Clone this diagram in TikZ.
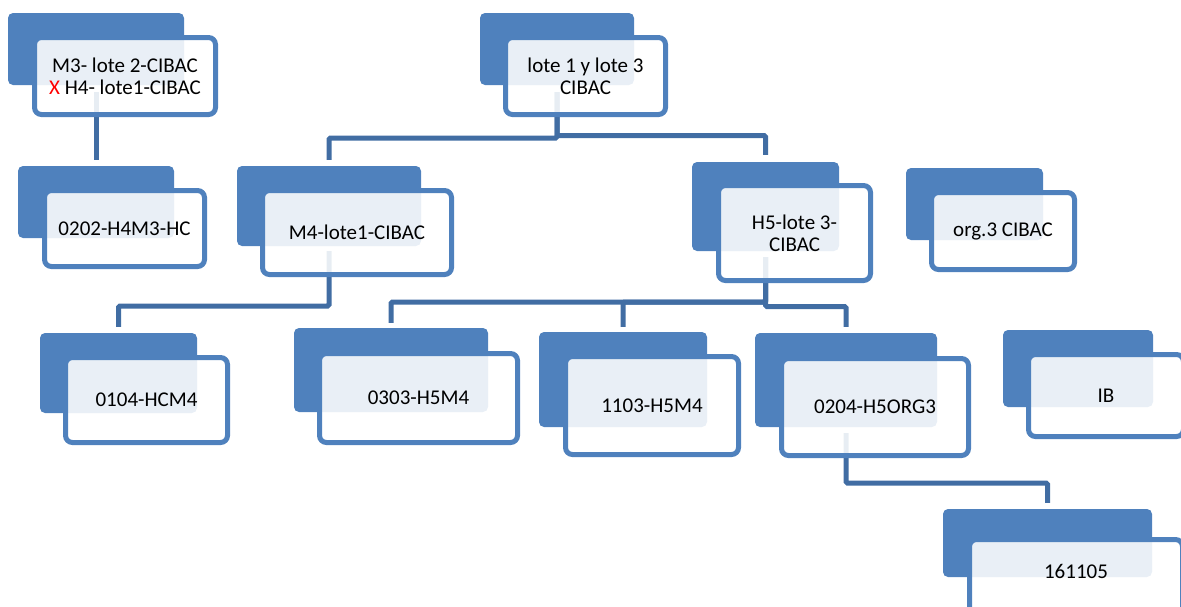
\documentclass[tikz,border=0pt]{standalone}
\usepackage{fontspec}
\setmainfont{Carlito}
\usetikzlibrary{backgrounds,calc}
\definecolor{boxblue}{HTML}{4F81BD}
\definecolor{linkblue}{HTML}{416DA3}
\tikzset{
  backbox/.style={draw=none, fill=boxblue, rounded corners=5pt, inner sep=0pt},
  frontbox/.style={draw=boxblue, line width=5pt, fill=white, fill opacity=0.88, text opacity=1,
    rounded corners=7pt, inner sep=0pt, align=center, font=\fontsize{21}{22}\selectfont},
  conn/.style={draw=linkblue, line width=5pt, rounded corners=1.5pt},
}
\begin{document}
\begin{tikzpicture}[x=1pt,y=-1pt]
\useasboundingbox (0,0) rectangle (1181,606);
% bar levels
\coordinate (barRa) at (0,138);
\coordinate (barRb) at (0,135.5);
\coordinate (barM) at (0,306);
\coordinate (barHa) at (0,302);
\coordinate (barHb) at (0,306.5);
\coordinate (barO) at (0,483);

% A
\node[backbox, minimum width=176pt, minimum height=72pt] (A-b) at (96,49) {};
\node[frontbox, minimum width=181pt, minimum height=77pt] (A) at (125,76) {M3- lote 2-CIBAC\\\textcolor{red}{X} H4- lote1-CIBAC};
% 0202
\node[backbox, minimum width=156pt, minimum height=72pt] (n0202-b) at (96,202) {};
\node[frontbox, minimum width=160pt, minimum height=76pt] (n0202) at (124.5,228.5) {0202-H4M3-HC};
% root
\node[backbox, minimum width=154pt, minimum height=72pt] (root-b) at (557,49) {};
\node[frontbox, minimum width=160pt, minimum height=77pt] (root) at (585.5,76) {lote 1 y lote 3\\CIBAC};
% M4
\node[backbox, minimum width=184pt, minimum height=80pt] (m4-b) at (329,206) {};
\node[frontbox, minimum width=189pt, minimum height=84pt] (m4) at (357,232.5) {M4-lote1-CIBAC};
% H5
\node[backbox, minimum width=147pt, minimum height=89pt] (h5-b) at (765.5,206.5) {};
\node[frontbox, minimum width=152pt, minimum height=95pt] (h5) at (794.5,233) {H5-lote 3-\\CIBAC};
% org3
\node[backbox, minimum width=137pt, minimum height=72pt] (org-b) at (974.5,204) {};
\node[frontbox, minimum width=143pt, minimum height=77pt] (org) at (1003,231) {org.3 CIBAC};
% 0104
\node[backbox, minimum width=157pt, minimum height=80pt] (n0104-b) at (118.5,373) {};
\node[frontbox, minimum width=162pt, minimum height=85pt] (n0104) at (146.5,400) {0104-HCM4};
% 0303
\node[backbox, minimum width=194pt, minimum height=84pt] (n0303-b) at (391,370) {};
\node[frontbox, minimum width=198pt, minimum height=89pt] (n0303) at (418.5,398) {0303-H5M4};
% 1103
\node[backbox, minimum width=168pt, minimum height=95pt] (n1103-b) at (623,379.5) {};
\node[frontbox, minimum width=173pt, minimum height=98pt] (n1103) at (652,405.5) {1103-H5M4};
% 0204
\node[backbox, minimum width=182pt, minimum height=94pt] (n0204-b) at (846,380) {};
\node[frontbox, minimum width=187pt, minimum height=97pt] (n0204) at (875,407) {0204-H5ORG3};
% IB
\node[backbox, minimum width=150pt, minimum height=77pt] (ib-b) at (1078,368.5) {};
\node[frontbox, minimum width=155pt, minimum height=82pt] (ib) at (1106,395.5) {IB};
% 161105
\node[backbox, minimum width=209pt, minimum height=68pt] (n161-b) at (1047.5,543) {};
\node[frontbox, minimum width=213pt, minimum height=75pt, text depth=12pt] (n161) at (1076,577) {161105};

\begin{pgfonlayer}{background}
\draw[conn] ([yshift=-7pt]A-b.south) -- ([yshift=6pt]n0202-b.north);
\draw[conn] ([yshift=-7pt]root-b.south) -- (root-b.south |- barRa) -| ([yshift=6pt]m4-b.north);
\draw[conn] ([yshift=-7pt]root-b.south) -- (root-b.south |- barRb) -| ([yshift=7pt]h5-b.north);
\draw[conn] ([yshift=-5pt]m4-b.south) -- (m4-b.south |- barM) -| ([yshift=6pt]n0104-b.north);
\draw[conn] ([yshift=-6pt]h5-b.south) -- (h5-b.south |- barHa) -| ([yshift=5pt]n0303-b.north);
\draw[conn] ([yshift=-6pt]h5-b.south) -- (h5-b.south |- barHa) -| ([yshift=5pt]n1103-b.north);
\draw[conn] ([yshift=-6pt]h5-b.south) -- (h5-b.south |- barHb) -| ([yshift=6pt]n0204-b.north);
\draw[conn] ([yshift=-6pt]n0204-b.south) -- (n0204-b.south |- barO) -| ([yshift=6pt]n161-b.north);
\end{pgfonlayer}
\end{tikzpicture}
\end{document}
